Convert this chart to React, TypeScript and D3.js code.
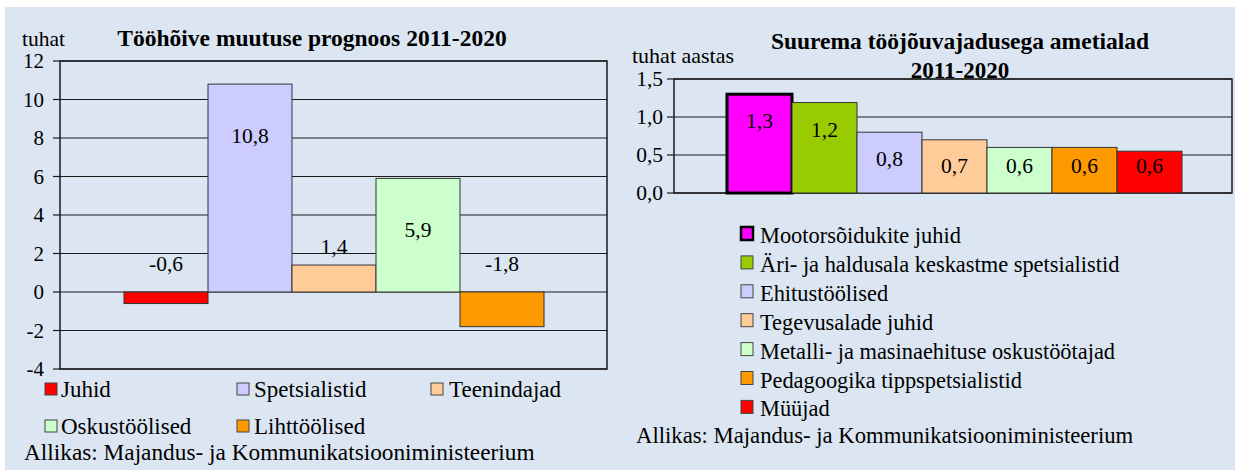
import React from "react";
import * as d3 from "d3";

// ---- Left chart data ----
const leftCategories = ["Juhid", "Spetsialistid", "Teenindajad", "Oskustöölised", "Lihttöölised"];
const leftValues = [-0.6, 10.8, 1.4, 5.9, -1.8];
const leftColors = ["#ff0000", "#ccccff", "#ffcc99", "#ccffcc", "#ff9900"];
const leftTicks = [-4, -2, 0, 2, 4, 6, 8, 10, 12];
const leftTitle = "Tööhõive muutuse prognoos 2011-2020";
const leftUnit = "tuhat";

// ---- Right chart data ----
const rightCategories = [
  "Mootorsõidukite juhid",
  "Äri- ja haldusala keskastme spetsialistid",
  "Ehitustöölised",
  "Tegevusalade juhid",
  "Metalli- ja masinaehituse oskustöötajad",
  "Pedagoogika tippspetsialistid",
  "Müüjad",
];
const rightValues = [1.3, 1.19, 0.8, 0.7, 0.6, 0.6, 0.55];
const rightColors = ["#ff00ff", "#99cc00", "#ccccff", "#ffcc99", "#ccffcc", "#ff9900", "#ff0000"];
const rightTicks = [0, 0.5, 1.0, 1.5];
const rightTitle1 = "Suurema tööjõuvajadusega ametialad";
const rightTitle2 = "2011-2020";
const rightUnit = "tuhat aastas";

const sourceText = "Allikas: Majandus- ja Kommunikatsiooniministeerium";

const FONT = "Liberation Serif, Tinos, DejaVu Serif, serif";
const BG = "#dce6f2";
const fmt = (v: number) => d3.format(".1f")(v).replace(".", ",").replace("\u2212", "-");
const fmtTick = (v: number) => d3.format("d")(v).replace("\u2212", "-");

export default function App() {
  const lPlot = { x0: 60, x1: 607, y0: 61, y1: 369 };
  const ly = d3.scaleLinear().domain([-4, 12]).range([lPlot.y1, lPlot.y0]);
  const lx = d3.scaleBand<string>().domain(leftCategories).range([124, 544]).padding(0);

  const rPlot = { x0: 674, x1: 1232, y0: 79, y1: 193 };
  const ry = d3.scaleLinear().domain([0, 1.5]).range([rPlot.y1, rPlot.y0]);
  const rx = d3.scaleBand<string>().domain(rightCategories).range([727, 1182]).padding(0);

  const leftLegendPos = [
    { bx: 45, tx: 61, row: 0 },
    { bx: 237, tx: 254, row: 0 },
    { bx: 431, tx: 449, row: 0 },
    { bx: 45, tx: 61, row: 1 },
    { bx: 237, tx: 254, row: 1 },
  ];
  const leftRowBaselines = [397, 434];

  const labelY = (v: number) => {
    if (v > 3) return ly(v) + 52;
    if (v > 0) return ly(v) - 18;
    return ly(0) - 28;
  };

  const T = (props: any) => <text fontFamily={FONT} fill="#000" {...props} />;

  return (
    <svg width={1235} height={470} style={{ position: "absolute", left: 0, top: 0 }} fontFamily={FONT}>
      <rect x={0} y={0} width={1235} height={470} fill="#ffffff" />
      <rect x={5} y={7} width={1230} height={463} fill={BG} />

      {/* ===== Left chart ===== */}
      <T x={22} y={46} fontSize={21.5}>{leftUnit}</T>
      <T x={312} y={46} fontSize={23.5} fontWeight="bold" textAnchor="middle">{leftTitle}</T>
      {leftTicks.map((t) => (
        <line key={"lg" + t} x1={lPlot.x0} x2={lPlot.x1} y1={ly(t)} y2={ly(t)} stroke="#1a1a1a" strokeWidth={1.2} />
      ))}
      {leftTicks.map((t) => (
        <g key={"lt" + t}>
          <line x1={lPlot.x0 - 7} x2={lPlot.x0} y1={ly(t)} y2={ly(t)} stroke="#1a1a1a" strokeWidth={1.2} />
          <T x={44} y={ly(t) + 7} fontSize={21} textAnchor="end">{fmtTick(t)}</T>
        </g>
      ))}
      {leftCategories.map((c, i) => {
        const v = leftValues[i];
        const y = Math.min(ly(v), ly(0));
        const h = Math.abs(ly(v) - ly(0));
        return (
          <rect key={"lb" + c} x={lx(c)!} y={y} width={lx.bandwidth()} height={h} fill={leftColors[i]} stroke="#333" strokeWidth={1} />
        );
      })}
      <rect x={lPlot.x0} y={lPlot.y0} width={lPlot.x1 - lPlot.x0} height={lPlot.y1 - lPlot.y0} fill="none" stroke="#1a1a1a" strokeWidth={1.5} />
      {leftCategories.map((c, i) => (
        <T key={"ll" + c} x={lx(c)! + lx.bandwidth() / 2} y={labelY(leftValues[i]) + 7} fontSize={21.5} textAnchor="middle">
          {fmt(leftValues[i])}
        </T>
      ))}
      {leftCategories.map((c, i) => {
        const p = leftLegendPos[i];
        const base = leftRowBaselines[p.row];
        return (
          <g key={"lleg" + c}>
            <rect x={p.bx} y={base - 14} width={12} height={12} fill={leftColors[i]} stroke="#444" strokeWidth={1} />
            <T x={p.tx} y={base} fontSize={23}>{c}</T>
          </g>
        );
      })}
      <T x={24} y={460} fontSize={23.3}>{sourceText}</T>

      {/* ===== Right chart ===== */}
      <T x={632} y={63} fontSize={22}>{rightUnit}</T>
      <T x={960} y={49} fontSize={23.5} fontWeight="bold" textAnchor="middle">{rightTitle1}</T>
      <T x={960} y={78} fontSize={23} fontWeight="bold" textAnchor="middle">{rightTitle2}</T>
      {rightTicks.map((t) => (
        <line key={"rg" + t} x1={rPlot.x0} x2={rPlot.x1} y1={ry(t)} y2={ry(t)} stroke="#1a1a1a" strokeWidth={1.2} />
      ))}
      {rightTicks.map((t) => (
        <g key={"rt" + t}>
          <line x1={rPlot.x0 - 7} x2={rPlot.x0} y1={ry(t)} y2={ry(t)} stroke="#1a1a1a" strokeWidth={1.2} />
          <T x={663} y={ry(t) + 7} fontSize={21.5} textAnchor="end">{fmt(t)}</T>
        </g>
      ))}
      <rect x={rPlot.x0} y={rPlot.y0} width={rPlot.x1 - rPlot.x0} height={rPlot.y1 - rPlot.y0} fill="none" stroke="#1a1a1a" strokeWidth={1.5} />
      {rightCategories.map((c, i) => {
        const v = rightValues[i];
        const thick = i === 0;
        return (
          <rect key={"rb" + c} x={rx(c)!} y={ry(v)} width={rx.bandwidth()} height={ry(0) - ry(v)} fill={rightColors[i]} stroke={thick ? "#000" : "#333"} strokeWidth={thick ? 3 : 1} />
        );
      })}
      {rightCategories.map((c, i) => (
        <T key={"rl" + c} x={rx(c)! + rx.bandwidth() / 2} y={Math.min(ry(rightValues[i]) + 27, 166) + 7} fontSize={21.5} textAnchor="middle">
          {fmt(rightValues[i])}
        </T>
      ))}
      {rightCategories.map((c, i) => {
        const top = 227 + i * 28.9;
        const thick = i === 0;
        return (
          <g key={"rleg" + c}>
            <rect x={741} y={top} width={12} height={13} fill={rightColors[i]} stroke={thick ? "#000" : "#444"} strokeWidth={thick ? 2.5 : 1} />
            <T x={760} y={top + 16} fontSize={22.4}>{c}</T>
          </g>
        );
      })}
      <T x={636} y={443} fontSize={22.7}>{sourceText}</T>
    </svg>
  );
}
